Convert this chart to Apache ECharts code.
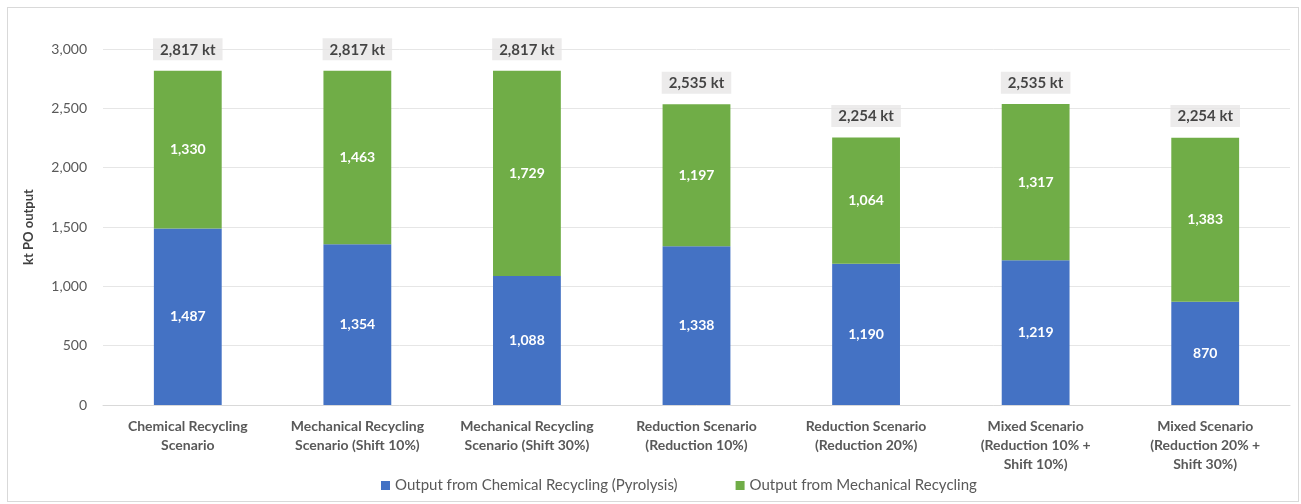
<!DOCTYPE html>
<html><head><meta charset="utf-8">
<script src="https://cdn.jsdelivr.net/npm/echarts@6/dist/echarts.min.js"></script>
<style>
html,body{margin:0;padding:0;background:#fff;}
#wrap{position:absolute;left:7px;top:7px;width:1292px;height:495px;border:1px solid #d9d9d9;box-sizing:border-box;}
#c{position:absolute;left:0;top:0;width:1301px;height:504px;}
</style></head>
<body>
<div id="wrap"></div>
<div id="c"></div>
<script>
const categories = [
  "Chemical Recycling\nScenario",
  "Mechanical Recycling\nScenario (Shift 10%)",
  "Mechanical Recycling\nScenario (Shift 30%)",
  "Reduction Scenario\n(Reduction 10%)",
  "Reduction Scenario\n(Reduction 20%)",
  "Mixed Scenario\n(Reduction 10% +\nShift 10%)",
  "Mixed Scenario\n(Reduction 20% +\nShift 30%)"
];
const chemical = [1487, 1354, 1088, 1338, 1190, 1219, 870];
const mechanical = [1330, 1463, 1729, 1197, 1064, 1317, 1383];
const totals = [2817, 2817, 2817, 2535, 2254, 2535, 2254];
const seriesNames = ["Output from Chemical Recycling (Pyrolysis)", "Output from Mechanical Recycling"];

const FONT = "Lato, 'Noto Sans', sans-serif";
const fmt = v => v.toLocaleString('en-US');

const chart = echarts.init(document.getElementById('c'), null, {renderer:'canvas'});
chart.setOption({
  animation:false,
  textStyle:{fontFamily:FONT},
  grid:{left:103, right:11, top:49, bottom:99, containLabel:false},
  legend:{
    data:seriesNames, bottom:6, left:376, itemWidth:9, itemHeight:9, itemGap:58, icon:'rect',
    textStyle:{color:'#595959', fontSize:15, fontFamily:FONT}
  },
  xAxis:{
    type:'category', data:categories,
    axisLine:{lineStyle:{color:'#d9d9d9'}}, axisTick:{show:false},
    axisLabel:{color:'#595959', fontWeight:'bold', fontSize:14, lineHeight:19, margin:12, interval:0, fontFamily:FONT}
  },
  yAxis:{
    type:'value', min:0, max:3000, interval:500,
    name:'kt PO output', nameLocation:'middle', nameGap:68, nameRotate:90,
    nameTextStyle:{color:'#404040', fontWeight:'bold', fontSize:13, fontFamily:FONT},
    axisLine:{show:false}, axisTick:{show:false},
    splitLine:{lineStyle:{color:'#e6e6e6'}},
    axisLabel:{color:'#595959', fontSize:14, margin:16, formatter:v=>fmt(v), fontFamily:FONT}
  },
  series:[
    {name:seriesNames[0], type:'bar', stack:'t', data:chemical, barWidth:'40%',
     itemStyle:{color:'#4472c4'},
     label:{show:true, position:'inside', color:'#fff', fontWeight:'bold', fontSize:14, formatter:p=>fmt(p.value), fontFamily:FONT}},
    {name:seriesNames[1], type:'bar', stack:'t', data:mechanical, barWidth:'40%',
     itemStyle:{color:'#70ad47'},
     label:{show:true, position:'inside', color:'#fff', fontWeight:'bold', fontSize:14, formatter:p=>fmt(p.value), fontFamily:FONT}},
    {name:'Total', type:'scatter', data:totals, symbolSize:1, itemStyle:{color:'transparent'}, silent:true,
     label:{show:true, position:'top', distance:10, color:'#1a1a1a', fontWeight:'bold', fontSize:15,
       backgroundColor:'#e7e6e6', padding:[4,7,3,7], formatter:p=>fmt(p.value)+' kt', fontFamily:FONT}}
  ]
});
</script>
</body></html>
